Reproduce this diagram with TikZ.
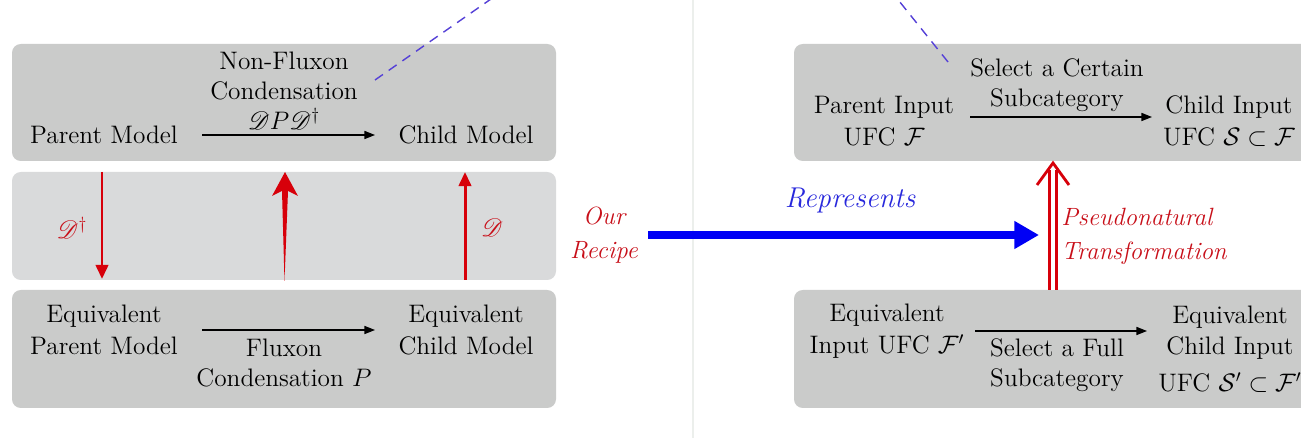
\documentclass[tikz,border=0pt]{standalone}
\usepackage{mathrsfs}
\usepackage{amssymb}
\usetikzlibrary{arrows.meta}
\definecolor{boxgray}{RGB}{202,203,202}
\definecolor{bandgray}{RGB}{217,218,219}
\definecolor{myred}{RGB}{215,0,10}
\definecolor{txtred}{RGB}{200,15,25}
\definecolor{myblue}{RGB}{0,0,245}
\definecolor{txtblue}{RGB}{40,40,220}
\definecolor{dashblue}{RGB}{85,65,215}
\definecolor{faintline}{RGB}{236,239,236}
\begin{document}
\begin{tikzpicture}[x=0.02cm,y=-0.02cm,
  txt/.style={font=\fontsize{14.4}{17}\selectfont, align=center, inner sep=0pt},
  redlbl/.style={font=\fontsize{14.2}{19.3}\selectfont\itshape, text=txtred, inner sep=0pt},
  blk/.style={draw=black, line width=0.7pt, -{Triangle[length=6pt,width=4.6pt]}},
  redarr/.style={draw=myred, line width=1.7pt, -{Triangle[length=8pt,width=7pt]}},
  panel/.style={fill=boxgray, rounded corners=5pt},
  band/.style={fill=bandgray, rounded corners=5pt},
  dashln/.style={draw=dashblue, line width=0.8pt, dash pattern=on 5.5pt off 4pt}
]
\clip (0,0) rectangle (1301,438);
\fill[white] (0,0) rectangle (1301,438);
\draw[faintline, line width=0.6pt] (693,0) -- (693,438);

% panels
\fill[panel] (12,44) rectangle (556,161);
\fill[band]  (12,172) rectangle (556,280);
\fill[panel] (12,290) rectangle (556,408);
\fill[panel] (794,44) rectangle (1330,161);
\fill[panel] (794,290) rectangle (1330,408);

% left top
\node[txt] (pm) at (104,135) {Parent Model};
\node[txt] (cm) at (466,135) {Child Model};
\node[txt] (nfc) at (284,91) {Non-Fluxon\\Condensation\\$\mathscr{D}P\mathscr{D}^{\dagger}$};
\coordinate (a1s) at (202,135);
\coordinate (a1e) at (375,135);
\draw[blk] (a1s) -- (a1e);

% left bottom
\node[txt] (epm) at (104,330) {Equivalent\\[1.5pt]Parent Model};
\node[txt] (ecm) at (466,330) {Equivalent\\[1.5pt]Child Model};
\node[txt] (fc) at (284,363) {Fluxon\\Condensation $P$};
\coordinate (a2s) at (202,330);
\coordinate (a2e) at (375,330);
\draw[blk] (a2s) -- (a2e);

% band arrows
\coordinate (d1s) at (102,172);
\coordinate (d1e) at (102,279);
\draw[redarr] (d1s) -- (d1e);
\node[redlbl, font=\fontsize{14.2}{17}\selectfont] (dd) at (72,228) {$\mathscr{D}^{\dagger}$};
\coordinate (d2s) at (465,280);
\coordinate (d2e) at (465,172);
\draw[redarr] (d2s) -- (d2e);
\node[redlbl, font=\fontsize{14.2}{17}\selectfont] (d) at (492,228) {$\mathscr{D}$};
\fill[myred] (284.5,281) -- (282,191) -- (272,196) -- (285,172) -- (298,196) -- (288,191) -- cycle;

% dashed lines
\coordinate (dl1) at (375,80);
\coordinate (dl1e) at (501,-8);
\draw[dashln] (dl1) -- (dl1e);
\coordinate (dl2) at (948,62);
\coordinate (dl2e) at (891,-9);
\draw[dashln] (dl2) -- (dl2e);

% middle
\node[redlbl, align=center] (recipe) at (604,235) {Our\\Recipe};
\coordinate (rs) at (648,235);
\coordinate (re) at (1039,235);
\draw[myblue, line width=5.1pt, -{Triangle[length=14pt,width=15pt]}] (rs) -- (re);
\node[font=\fontsize{16.3}{19}\selectfont\itshape, text=txtblue, inner sep=0pt] (rep) at (850,201) {Represents};

% right top
\node[txt] (pi) at (884,121) {Parent Input\\[1.5pt]UFC $\mathcal{F}$};
\node[txt] (ci) at (1229,121) {Child Input\\[1.5pt]UFC $\mathcal{S}\subset\mathcal{F}$};
\node[txt] (sc) at (1057,85) {Select a Certain\\Subcategory};
\coordinate (a3s) at (970,117);
\coordinate (a3e) at (1152,117);
\draw[blk] (a3s) -- (a3e);

% right bottom
\node[txt] (ei) at (887,331) {Equivalent\\[1.5pt]Input UFC $\mathcal{F}'$};
\node[txt] (eci) at (1230,349) {Equivalent\\[1pt]Child Input\\[4pt]UFC $\mathcal{S}'\subset\mathcal{F}'$};
\node[txt] (sf) at (1057,365) {Select a Full\\Subcategory};
\coordinate (a4s) at (975,331);
\coordinate (a4e) at (1147,331);
\draw[blk] (a4s) -- (a4e);

% pseudonatural transformation
\coordinate (pt1) at (1053,290);
\coordinate (pt3) at (1053,170);
\coordinate (pt2) at (1053,163);
\draw[myred, line width=1.6pt, double=white, double distance=2.4pt] (pt1) -- (pt3);
\draw[myred, line width=1.6pt, line join=miter] (1037,185) -- (pt2) -- (1069,185);
\node[redlbl, align=left, anchor=west] (ptl) at (1061,236) {Pseudonatural\\Transformation};
\end{tikzpicture}
\end{document}
